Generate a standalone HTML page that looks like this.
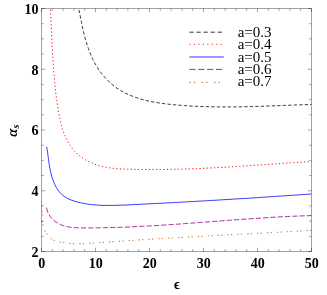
<!DOCTYPE html>
<html><head><meta charset="utf-8"><title>plot</title>
<style>html,body{margin:0;padding:0;background:#fff;}body{width:327px;height:295px;overflow:hidden;position:relative;font-family:"Liberation Serif",serif;}</style>
</head><body>
<svg width="327" height="295" viewBox="0 0 327 295" style="position:absolute;left:0;top:0;will-change:transform">
<rect width="327" height="295" fill="#fff"/>
<clipPath id="c"><rect x="41.5" y="8.5" width="270.0" height="243.0"/></clipPath><g clip-path="url(#c)">
<path d="M76.6 -0.9 L77.0 0.6 L77.3 2.0 L77.6 3.4 L77.9 4.8 L78.2 6.3 L78.5 7.7 L78.8 9.2 L79.1 10.6 L79.4 12.1 L79.7 13.6 L80.0 15.0 L80.3 16.5 L80.6 18.0 L80.9 19.4 L81.2 20.9 L81.5 22.4 L81.8 23.8 L82.1 25.3 L82.4 26.8 L82.7 28.3 L83.1 29.7 L83.4 31.2 L83.7 32.7 L84.1 34.1 L84.5 35.6 L84.8 37.0 L85.2 38.5 L85.6 39.9 L86.0 41.4 L86.5 42.8 L86.9 44.3 L87.4 45.7 L87.9 47.1 L88.4 48.6 L88.9 50.0 L89.4 51.4 L90.0 52.8 L90.5 54.2 L91.1 55.6 L91.7 57.0 L92.4 58.3 L93.0 59.7 L93.7 61.1 L94.4 62.4 L95.1 63.7 L95.9 65.0 L96.7 66.3 L97.5 67.6 L98.3 68.9 L99.1 70.1 L100.0 71.3 L100.9 72.6 L101.8 73.8 L102.7 74.9 L103.7 76.1 L104.7 77.2 L105.7 78.3 L106.7 79.4 L107.8 80.5 L108.9 81.5 L110.0 82.5 L111.1 83.5 L112.2 84.5 L113.3 85.4 L114.5 86.3 L115.7 87.2 L116.9 88.1 L118.1 88.9 L119.3 89.7 L120.6 90.5 L121.9 91.2 L123.1 91.9 L124.4 92.6 L125.7 93.3 L127.1 93.9 L128.4 94.5 L129.7 95.1 L131.1 95.7 L132.5 96.2 L133.8 96.8 L135.2 97.3 L136.6 97.7 L138.0 98.2 L139.5 98.7 L140.9 99.1 L142.3 99.5 L143.8 99.9 L145.2 100.2 L146.7 100.6 L148.1 100.9 L149.6 101.2 L151.1 101.6 L152.6 101.8 L154.1 102.1 L155.6 102.4 L157.1 102.6 L158.6 102.9 L160.1 103.1 L161.6 103.3 L163.1 103.5 L164.6 103.7 L166.1 103.9 L167.7 104.1 L169.2 104.3 L170.7 104.4 L172.2 104.6 L173.7 104.7 L175.2 104.9 L176.8 105.0 L178.3 105.1 L179.8 105.2 L181.3 105.4 L182.8 105.5 L184.3 105.6 L185.8 105.7 L187.3 105.8 L188.8 105.9 L190.4 106.0 L191.9 106.1 L193.4 106.1 L194.9 106.2 L196.4 106.3 L197.9 106.4 L199.4 106.4 L200.9 106.5 L202.4 106.5 L203.9 106.6 L205.3 106.6 L206.8 106.7 L208.3 106.7 L209.8 106.8 L211.3 106.8 L212.8 106.8 L214.3 106.9 L215.8 106.9 L217.3 106.9 L218.8 106.9 L220.3 106.9 L221.8 106.9 L223.2 106.9 L224.7 106.9 L226.2 106.9 L227.7 106.9 L229.2 106.9 L230.7 106.9 L232.2 106.9 L233.7 106.9 L235.1 106.9 L236.6 106.9 L238.1 106.8 L239.6 106.8 L241.1 106.8 L242.6 106.8 L244.1 106.7 L245.5 106.7 L247.0 106.7 L248.5 106.6 L250.0 106.6 L251.5 106.6 L253.0 106.5 L254.5 106.5 L256.0 106.4 L257.4 106.4 L258.9 106.3 L260.4 106.3 L261.9 106.3 L263.4 106.2 L264.9 106.2 L266.4 106.1 L267.9 106.0 L269.4 106.0 L270.9 105.9 L272.4 105.9 L273.9 105.8 L275.4 105.8 L276.9 105.7 L278.4 105.7 L279.9 105.6 L281.4 105.5 L282.9 105.5 L284.4 105.4 L285.9 105.4 L287.4 105.3 L288.9 105.3 L290.4 105.2 L291.9 105.1 L293.4 105.1 L294.9 105.0 L296.4 105.0 L297.9 104.9 L299.5 104.9 L301.0 104.8 L302.5 104.8 L304.0 104.7 L305.5 104.7 L307.1 104.6 L308.6 104.6 L310.1 104.5 L311.6 104.5" fill="none" stroke="#000" stroke-width="0.8" stroke-dasharray="3.35 2.15"/>
<path d="M49.8 -1.1 L49.9 0.5 L50.0 2.0 L50.1 3.5 L50.2 5.0 L50.3 6.5 L50.4 8.0 L50.4 9.5 L50.5 11.0 L50.6 12.5 L50.7 14.0 L50.7 15.5 L50.8 17.0 L50.9 18.5 L51.0 20.0 L51.0 21.5 L51.1 23.0 L51.2 24.5 L51.2 26.0 L51.3 27.5 L51.4 29.0 L51.4 30.5 L51.5 32.0 L51.6 33.5 L51.6 35.0 L51.7 36.5 L51.8 38.0 L51.9 39.4 L51.9 40.9 L52.0 42.4 L52.1 43.9 L52.1 45.4 L52.2 46.9 L52.3 48.4 L52.4 49.9 L52.5 51.3 L52.5 52.8 L52.6 54.3 L52.7 55.8 L52.8 57.3 L52.9 58.8 L53.0 60.2 L53.1 61.7 L53.2 63.2 L53.3 64.7 L53.4 66.2 L53.5 67.7 L53.6 69.2 L53.7 70.6 L53.8 72.1 L53.9 73.6 L54.1 75.1 L54.2 76.6 L54.3 78.1 L54.4 79.6 L54.6 81.0 L54.7 82.5 L54.9 84.0 L55.0 85.5 L55.2 87.0 L55.3 88.5 L55.5 90.0 L55.6 91.5 L55.8 93.0 L56.0 94.4 L56.2 95.9 L56.4 97.4 L56.5 98.9 L56.7 100.4 L56.9 101.9 L57.2 103.4 L57.4 104.9 L57.6 106.4 L57.8 107.9 L58.0 109.4 L58.3 110.9 L58.5 112.4 L58.8 113.9 L59.1 115.4 L59.4 116.9 L59.7 118.4 L60.0 119.8 L60.3 121.3 L60.7 122.8 L61.0 124.3 L61.4 125.7 L61.8 127.2 L62.3 128.6 L62.7 130.0 L63.2 131.4 L63.8 132.8 L64.3 134.2 L64.9 135.6 L65.5 137.0 L66.1 138.3 L66.8 139.7 L67.5 141.0 L68.2 142.3 L69.0 143.6 L69.8 144.8 L70.6 146.0 L71.4 147.2 L72.3 148.4 L73.3 149.6 L74.2 150.7 L75.2 151.8 L76.3 152.8 L77.3 153.8 L78.4 154.8 L79.5 155.7 L80.7 156.6 L81.9 157.5 L83.1 158.3 L84.4 159.1 L85.6 159.9 L86.9 160.6 L88.2 161.3 L89.5 162.0 L90.9 162.6 L92.3 163.2 L93.6 163.7 L95.0 164.3 L96.4 164.8 L97.9 165.2 L99.3 165.6 L100.7 166.0 L102.2 166.4 L103.6 166.7 L105.1 167.0 L106.5 167.3 L108.0 167.6 L109.5 167.8 L111.0 168.0 L112.5 168.2 L113.9 168.4 L115.4 168.5 L116.9 168.7 L118.4 168.8 L119.9 168.9 L121.5 169.0 L123.0 169.0 L124.5 169.1 L126.0 169.2 L127.5 169.2 L129.0 169.3 L130.5 169.3 L132.1 169.3 L133.6 169.4 L135.1 169.4 L136.6 169.4 L138.1 169.4 L139.6 169.5 L141.1 169.5 L142.6 169.5 L144.1 169.5 L145.6 169.5 L147.2 169.5 L148.7 169.5 L150.2 169.5 L151.7 169.5 L153.2 169.5 L154.7 169.5 L156.2 169.5 L157.7 169.5 L159.2 169.5 L160.7 169.5 L162.2 169.5 L163.7 169.5 L165.2 169.5 L166.7 169.4 L168.2 169.4 L169.7 169.4 L171.2 169.4 L172.7 169.3 L174.2 169.3 L175.7 169.3 L177.2 169.2 L178.6 169.2 L180.1 169.1 L181.6 169.1 L183.1 169.1 L184.6 169.0 L186.1 169.0 L187.6 168.9 L189.1 168.9 L190.6 168.8 L192.1 168.8 L193.6 168.7 L195.1 168.7 L196.6 168.6 L198.0 168.5 L199.5 168.5 L201.0 168.4 L202.5 168.3 L204.0 168.3 L205.5 168.2 L207.0 168.1 L208.5 168.1 L210.0 168.0 L211.4 167.9 L212.9 167.9 L214.4 167.8 L215.9 167.7 L217.4 167.6 L218.9 167.5 L220.4 167.5 L221.9 167.4 L223.4 167.3 L224.8 167.2 L226.3 167.1 L227.8 167.0 L229.3 167.0 L230.8 166.9 L232.3 166.8 L233.8 166.7 L235.3 166.6 L236.7 166.5 L238.2 166.4 L239.7 166.3 L241.2 166.2 L242.7 166.1 L244.2 166.0 L245.7 165.9 L247.2 165.8 L248.7 165.7 L250.1 165.6 L251.6 165.5 L253.1 165.4 L254.6 165.3 L256.1 165.2 L257.6 165.1 L259.1 165.0 L260.6 164.9 L262.1 164.8 L263.6 164.7 L265.1 164.6 L266.5 164.5 L268.0 164.4 L269.5 164.3 L271.0 164.2 L272.5 164.1 L274.0 164.0 L275.5 163.9 L277.0 163.8 L278.5 163.7 L280.0 163.6 L281.5 163.5 L283.0 163.4 L284.5 163.2 L286.0 163.1 L287.5 163.0 L289.0 162.9 L290.5 162.8 L292.0 162.7 L293.5 162.6 L295.0 162.5 L296.5 162.4 L298.0 162.3 L299.5 162.2 L301.0 162.1 L302.5 162.0 L304.0 161.9 L305.5 161.8 L307.0 161.7 L308.5 161.6 L310.0 161.5 L311.5 161.4" fill="none" stroke="#f00" stroke-width="1.0" stroke-dasharray="1.2 2.42"/>
<path d="M46.7 146.8 L46.9 148.2 L47.2 149.6 L47.4 151.1 L47.6 152.5 L47.8 154.0 L48.0 155.5 L48.2 157.0 L48.4 158.4 L48.6 159.9 L48.8 161.4 L49.0 162.9 L49.2 164.4 L49.5 165.9 L49.7 167.3 L50.0 168.8 L50.3 170.3 L50.6 171.8 L50.9 173.2 L51.3 174.7 L51.7 176.2 L52.1 177.6 L52.6 179.1 L53.1 180.5 L53.7 181.9 L54.3 183.3 L54.9 184.7 L55.6 186.1 L56.3 187.4 L57.1 188.7 L57.9 189.9 L58.8 191.1 L59.7 192.3 L60.7 193.3 L61.7 194.4 L62.8 195.3 L63.9 196.2 L65.1 197.0 L66.4 197.8 L67.7 198.5 L69.0 199.1 L70.3 199.7 L71.7 200.2 L73.2 200.7 L74.6 201.2 L76.0 201.6 L77.5 202.0 L78.9 202.4 L80.4 202.7 L81.9 203.0 L83.3 203.3 L84.8 203.6 L86.3 203.8 L87.7 204.1 L89.2 204.3 L90.7 204.5 L92.1 204.6 L93.6 204.8 L95.1 204.9 L96.6 205.0 L98.1 205.1 L99.6 205.2 L101.1 205.3 L102.6 205.3 L104.0 205.4 L105.5 205.4 L107.0 205.4 L108.5 205.4 L110.0 205.4 L111.5 205.4 L113.0 205.4 L114.5 205.4 L116.0 205.3 L117.5 205.3 L119.0 205.2 L120.5 205.2 L122.0 205.1 L123.5 205.1 L125.0 205.0 L126.5 204.9 L128.0 204.9 L129.5 204.8 L131.0 204.7 L132.5 204.6 L134.0 204.6 L135.5 204.5 L137.0 204.4 L138.5 204.4 L140.0 204.3 L141.5 204.2 L143.0 204.1 L144.5 204.1 L146.0 204.0 L147.5 203.9 L149.0 203.8 L150.5 203.8 L152.0 203.7 L153.5 203.6 L155.0 203.5 L156.5 203.5 L158.0 203.4 L159.5 203.3 L161.0 203.2 L162.5 203.1 L164.0 203.1 L165.4 203.0 L166.9 202.9 L168.4 202.8 L169.9 202.8 L171.4 202.7 L172.9 202.6 L174.4 202.5 L175.9 202.4 L177.4 202.4 L178.9 202.3 L180.4 202.2 L181.9 202.1 L183.3 202.0 L184.8 202.0 L186.3 201.9 L187.8 201.8 L189.3 201.7 L190.8 201.6 L192.3 201.5 L193.8 201.5 L195.3 201.4 L196.7 201.3 L198.2 201.2 L199.7 201.1 L201.2 201.0 L202.7 201.0 L204.2 200.9 L205.7 200.8 L207.2 200.7 L208.7 200.6 L210.1 200.5 L211.6 200.4 L213.1 200.4 L214.6 200.3 L216.1 200.2 L217.6 200.1 L219.1 200.0 L220.6 199.9 L222.0 199.8 L223.5 199.7 L225.0 199.6 L226.5 199.6 L228.0 199.5 L229.5 199.4 L231.0 199.3 L232.5 199.2 L233.9 199.1 L235.4 199.0 L236.9 198.9 L238.4 198.8 L239.9 198.7 L241.4 198.6 L242.9 198.5 L244.4 198.5 L245.8 198.4 L247.3 198.3 L248.8 198.2 L250.3 198.1 L251.8 198.0 L253.3 197.9 L254.8 197.8 L256.3 197.7 L257.8 197.6 L259.2 197.5 L260.7 197.4 L262.2 197.3 L263.7 197.2 L265.2 197.1 L266.7 197.0 L268.2 196.9 L269.7 196.8 L271.2 196.7 L272.7 196.6 L274.2 196.5 L275.6 196.4 L277.1 196.3 L278.6 196.2 L280.1 196.1 L281.6 196.0 L283.1 195.9 L284.6 195.8 L286.1 195.7 L287.6 195.6 L289.1 195.5 L290.6 195.4 L292.1 195.3 L293.6 195.2 L295.1 195.1 L296.5 195.0 L298.0 194.9 L299.5 194.8 L301.0 194.7 L302.5 194.6 L304.0 194.5 L305.5 194.4 L307.0 194.3 L308.5 194.2 L310.0 194.1 L311.5 194.0" fill="none" stroke="#00f" stroke-width="0.8"/>
<path d="M46.6 207.6 L46.9 209.2 L47.3 210.7 L47.8 212.2 L48.4 213.6 L49.2 214.9 L50.0 216.2 L50.9 217.4 L51.9 218.5 L52.9 219.6 L54.0 220.6 L55.2 221.5 L56.4 222.3 L57.7 223.1 L59.0 223.8 L60.4 224.5 L61.8 225.1 L63.2 225.6 L64.6 226.0 L66.0 226.4 L67.4 226.7 L68.9 227.0 L70.3 227.2 L71.8 227.4 L73.3 227.5 L74.8 227.6 L76.3 227.7 L77.8 227.8 L79.3 227.8 L80.8 227.8 L82.3 227.9 L83.8 227.9 L85.3 227.9 L86.8 227.9 L88.3 227.9 L89.9 227.9 L91.4 227.9 L92.9 227.9 L94.4 227.8 L95.9 227.8 L97.4 227.8 L98.9 227.8 L100.4 227.8 L101.9 227.8 L103.4 227.7 L104.9 227.7 L106.4 227.7 L107.9 227.6 L109.4 227.6 L110.9 227.6 L112.4 227.5 L113.9 227.5 L115.4 227.4 L116.9 227.4 L118.4 227.3 L119.9 227.3 L121.4 227.2 L122.9 227.2 L124.4 227.1 L125.9 227.1 L127.4 227.0 L128.9 227.0 L130.4 226.9 L131.9 226.8 L133.4 226.8 L134.9 226.7 L136.4 226.6 L137.9 226.5 L139.4 226.5 L140.9 226.4 L142.4 226.3 L143.9 226.2 L145.4 226.2 L146.9 226.1 L148.4 226.0 L149.9 225.9 L151.4 225.8 L152.9 225.7 L154.4 225.7 L155.9 225.6 L157.4 225.5 L158.9 225.4 L160.4 225.3 L161.9 225.2 L163.4 225.1 L164.9 225.0 L166.4 224.9 L167.9 224.8 L169.4 224.7 L170.9 224.6 L172.3 224.5 L173.8 224.4 L175.3 224.3 L176.8 224.2 L178.3 224.1 L179.8 224.0 L181.3 223.9 L182.8 223.8 L184.3 223.7 L185.8 223.5 L187.3 223.4 L188.8 223.3 L190.3 223.2 L191.8 223.1 L193.3 223.0 L194.8 222.9 L196.3 222.8 L197.7 222.7 L199.2 222.5 L200.7 222.4 L202.2 222.3 L203.7 222.2 L205.2 222.1 L206.7 222.0 L208.2 221.9 L209.7 221.8 L211.2 221.6 L212.7 221.5 L214.2 221.4 L215.7 221.3 L217.2 221.2 L218.7 221.1 L220.1 221.0 L221.6 220.8 L223.1 220.7 L224.6 220.6 L226.1 220.5 L227.6 220.4 L229.1 220.3 L230.6 220.2 L232.1 220.1 L233.6 219.9 L235.1 219.8 L236.6 219.7 L238.1 219.6 L239.6 219.5 L241.1 219.4 L242.6 219.3 L244.1 219.2 L245.6 219.1 L247.0 219.0 L248.5 218.9 L250.0 218.8 L251.5 218.7 L253.0 218.6 L254.5 218.5 L256.0 218.4 L257.5 218.3 L259.0 218.2 L260.5 218.1 L262.0 218.0 L263.5 217.9 L265.0 217.8 L266.5 217.7 L268.0 217.6 L269.5 217.5 L271.0 217.4 L272.5 217.3 L274.0 217.2 L275.5 217.1 L277.0 217.1 L278.5 217.0 L280.0 216.9 L281.5 216.8 L283.0 216.7 L284.5 216.7 L286.0 216.6 L287.5 216.5 L289.0 216.4 L290.5 216.4 L292.0 216.3 L293.5 216.2 L295.0 216.2 L296.5 216.1 L298.0 216.1 L299.5 216.0 L301.0 215.9 L302.5 215.9 L304.0 215.8 L305.5 215.8 L307.0 215.7 L308.5 215.7 L310.0 215.6 L311.5 215.6" fill="none" stroke="#909" stroke-width="0.85" stroke-dasharray="5.2 2.1"/>
<path d="M41.3 201.1 L41.5 202.5 L41.7 203.9 L41.8 205.3 L41.8 206.8 L41.9 208.3 L41.9 209.8 L42.0 211.3 L42.0 212.8 L42.0 214.4 L42.1 215.9 L42.1 217.5 L42.2 219.0 L42.4 220.5 L42.5 222.1 L42.8 223.6 L43.1 225.1 L43.4 226.6 L43.8 228.0 L44.3 229.4 L44.9 230.8 L45.6 232.1 L46.3 233.4 L47.1 234.6 L48.0 235.8 L48.9 236.8 L50.0 237.8 L51.1 238.7 L52.3 239.4 L53.6 240.1 L54.9 240.6 L56.3 241.1 L57.7 241.5 L59.2 241.9 L60.7 242.2 L62.2 242.4 L63.7 242.7 L65.2 242.9 L66.7 243.1 L68.2 243.2 L69.7 243.4 L71.2 243.5 L72.6 243.6 L74.1 243.6 L75.6 243.7 L77.1 243.7 L78.6 243.7 L80.1 243.7 L81.6 243.7 L83.1 243.7 L84.6 243.6 L86.1 243.5 L87.6 243.5 L89.1 243.4 L90.6 243.3 L92.1 243.2 L93.6 243.1 L95.1 243.0 L96.6 242.9 L98.1 242.8 L99.5 242.7 L101.0 242.6 L102.5 242.4 L104.0 242.3 L105.5 242.2 L107.0 242.1 L108.5 242.0 L110.0 241.9 L111.5 241.8 L113.0 241.7 L114.5 241.6 L116.0 241.5 L117.5 241.4 L119.0 241.3 L120.5 241.2 L122.0 241.1 L123.5 241.0 L124.9 240.8 L126.4 240.7 L127.9 240.6 L129.4 240.5 L130.9 240.4 L132.4 240.4 L133.9 240.3 L135.4 240.2 L136.9 240.1 L138.4 240.0 L139.9 239.9 L141.4 239.8 L142.9 239.7 L144.4 239.6 L145.8 239.5 L147.3 239.4 L148.8 239.3 L150.3 239.2 L151.8 239.1 L153.3 239.0 L154.8 238.9 L156.3 238.9 L157.8 238.8 L159.3 238.7 L160.8 238.6 L162.3 238.5 L163.8 238.4 L165.2 238.3 L166.7 238.2 L168.2 238.2 L169.7 238.1 L171.2 238.0 L172.7 237.9 L174.2 237.8 L175.7 237.7 L177.2 237.6 L178.7 237.6 L180.2 237.5 L181.7 237.4 L183.1 237.3 L184.6 237.2 L186.1 237.1 L187.6 237.1 L189.1 237.0 L190.6 236.9 L192.1 236.8 L193.6 236.7 L195.1 236.7 L196.6 236.6 L198.1 236.5 L199.6 236.4 L201.0 236.3 L202.5 236.3 L204.0 236.2 L205.5 236.1 L207.0 236.0 L208.5 235.9 L210.0 235.9 L211.5 235.8 L213.0 235.7 L214.5 235.6 L216.0 235.5 L217.4 235.5 L218.9 235.4 L220.4 235.3 L221.9 235.2 L223.4 235.2 L224.9 235.1 L226.4 235.0 L227.9 234.9 L229.4 234.8 L230.9 234.8 L232.4 234.7 L233.9 234.6 L235.3 234.5 L236.8 234.4 L238.3 234.4 L239.8 234.3 L241.3 234.2 L242.8 234.1 L244.3 234.1 L245.8 234.0 L247.3 233.9 L248.8 233.8 L250.3 233.7 L251.8 233.7 L253.3 233.6 L254.7 233.5 L256.2 233.4 L257.7 233.3 L259.2 233.3 L260.7 233.2 L262.2 233.1 L263.7 233.0 L265.2 232.9 L266.7 232.9 L268.2 232.8 L269.7 232.7 L271.2 232.6 L272.7 232.5 L274.2 232.4 L275.6 232.4 L277.1 232.3 L278.6 232.2 L280.1 232.1 L281.6 232.0 L283.1 231.9 L284.6 231.9 L286.1 231.8 L287.6 231.7 L289.1 231.6 L290.6 231.5 L292.1 231.4 L293.6 231.3 L295.1 231.3 L296.6 231.2 L298.1 231.1 L299.5 231.0 L301.0 230.9 L302.5 230.8 L304.0 230.7 L305.5 230.6 L307.0 230.5 L308.5 230.4 L310.0 230.4 L311.5 230.3" fill="none" stroke="#b5601f" stroke-width="1.0" stroke-dasharray="1.2 2.3 1.2 5.2"/>
</g>
<rect x="41.5" y="8.5" width="270.0" height="243.0" fill="none" stroke="#000" stroke-opacity="0.36" stroke-width="1"/>
<path d="M41.50 251.5v-3.7M41.50 8.5v3.7M52.30 251.5v-2.3M52.30 8.5v2.3M63.10 251.5v-2.3M63.10 8.5v2.3M73.90 251.5v-2.3M73.90 8.5v2.3M84.70 251.5v-2.3M84.70 8.5v2.3M95.50 251.5v-3.7M95.50 8.5v3.7M106.30 251.5v-2.3M106.30 8.5v2.3M117.10 251.5v-2.3M117.10 8.5v2.3M127.90 251.5v-2.3M127.90 8.5v2.3M138.70 251.5v-2.3M138.70 8.5v2.3M149.50 251.5v-3.7M149.50 8.5v3.7M160.30 251.5v-2.3M160.30 8.5v2.3M171.10 251.5v-2.3M171.10 8.5v2.3M181.90 251.5v-2.3M181.90 8.5v2.3M192.70 251.5v-2.3M192.70 8.5v2.3M203.50 251.5v-3.7M203.50 8.5v3.7M214.30 251.5v-2.3M214.30 8.5v2.3M225.10 251.5v-2.3M225.10 8.5v2.3M235.90 251.5v-2.3M235.90 8.5v2.3M246.70 251.5v-2.3M246.70 8.5v2.3M257.50 251.5v-3.7M257.50 8.5v3.7M268.30 251.5v-2.3M268.30 8.5v2.3M279.10 251.5v-2.3M279.10 8.5v2.3M289.90 251.5v-2.3M289.90 8.5v2.3M300.70 251.5v-2.3M300.70 8.5v2.3M311.50 251.5v-3.7M311.50 8.5v3.7M41.5 251.50h3.7M311.5 251.50h-3.7M41.5 236.31h2.3M311.5 236.31h-2.3M41.5 221.12h2.3M311.5 221.12h-2.3M41.5 205.94h2.3M311.5 205.94h-2.3M41.5 190.75h3.7M311.5 190.75h-3.7M41.5 175.56h2.3M311.5 175.56h-2.3M41.5 160.38h2.3M311.5 160.38h-2.3M41.5 145.19h2.3M311.5 145.19h-2.3M41.5 130.00h3.7M311.5 130.00h-3.7M41.5 114.81h2.3M311.5 114.81h-2.3M41.5 99.62h2.3M311.5 99.62h-2.3M41.5 84.44h2.3M311.5 84.44h-2.3M41.5 69.25h3.7M311.5 69.25h-3.7M41.5 54.06h2.3M311.5 54.06h-2.3M41.5 38.88h2.3M311.5 38.88h-2.3M41.5 23.69h2.3M311.5 23.69h-2.3M41.5 8.50h3.7M311.5 8.50h-3.7" stroke="#000" stroke-opacity="0.36" stroke-width="1" fill="none"/>
<path d="M189.4 32.2H223.8" fill="none" stroke="#000" stroke-width="0.8" stroke-dasharray="4.3 2.75"/>
<path d="M189.4 44.3H223.8" fill="none" stroke="#f00" stroke-width="0.8" stroke-dasharray="1.3 3.15"/>
<path d="M189.4 57.0H223.8" fill="none" stroke="#00f" stroke-width="0.8"/>
<path d="M189.4 69.4H223.8" fill="none" stroke="#909" stroke-width="0.85" stroke-dasharray="6.2 2.65"/>
<path d="M189.4 82.4H223.8" fill="none" stroke="#b5601f" stroke-width="1.0" stroke-dasharray="1.3 3.1 1.3 6.7"/>
<g font-family="Liberation Serif, serif" font-size="15" fill="#000">
<text x="237.7" y="36.8">a=0.3</text>
<text x="237.7" y="49.1">a=0.4</text>
<text x="237.7" y="61.5">a=0.5</text>
<text x="237.7" y="74.0">a=0.6</text>
<text x="237.7" y="86.4">a=0.7</text>
</g>
<g font-family="Liberation Serif, serif" font-size="14" font-weight="bold" fill="#000">
<text x="41.8" y="267.6" text-anchor="middle">0</text>
<text x="95.8" y="267.6" text-anchor="middle">10</text>
<text x="149.8" y="267.6" text-anchor="middle">20</text>
<text x="203.8" y="267.6" text-anchor="middle">30</text>
<text x="257.8" y="267.6" text-anchor="middle">40</text>
<text x="311.8" y="267.6" text-anchor="middle">50</text>
<text x="38.5" y="256.7" text-anchor="end">2</text>
<text x="38.5" y="195.9" text-anchor="end">4</text>
<text x="38.5" y="135.2" text-anchor="end">6</text>
<text x="38.5" y="74.5" text-anchor="end">8</text>
<text x="38.5" y="13.7" text-anchor="end">10</text>
<text x="177" y="289" text-anchor="middle" font-size="14">&#x3f5;</text>
<text transform="translate(16.9,136.8) rotate(-90)" font-size="14.5" font-style="italic">&#x3b1;<tspan font-size="10.5" dy="2.3" dx="0.3">s</tspan></text>
</g>
</svg>
</body></html>
